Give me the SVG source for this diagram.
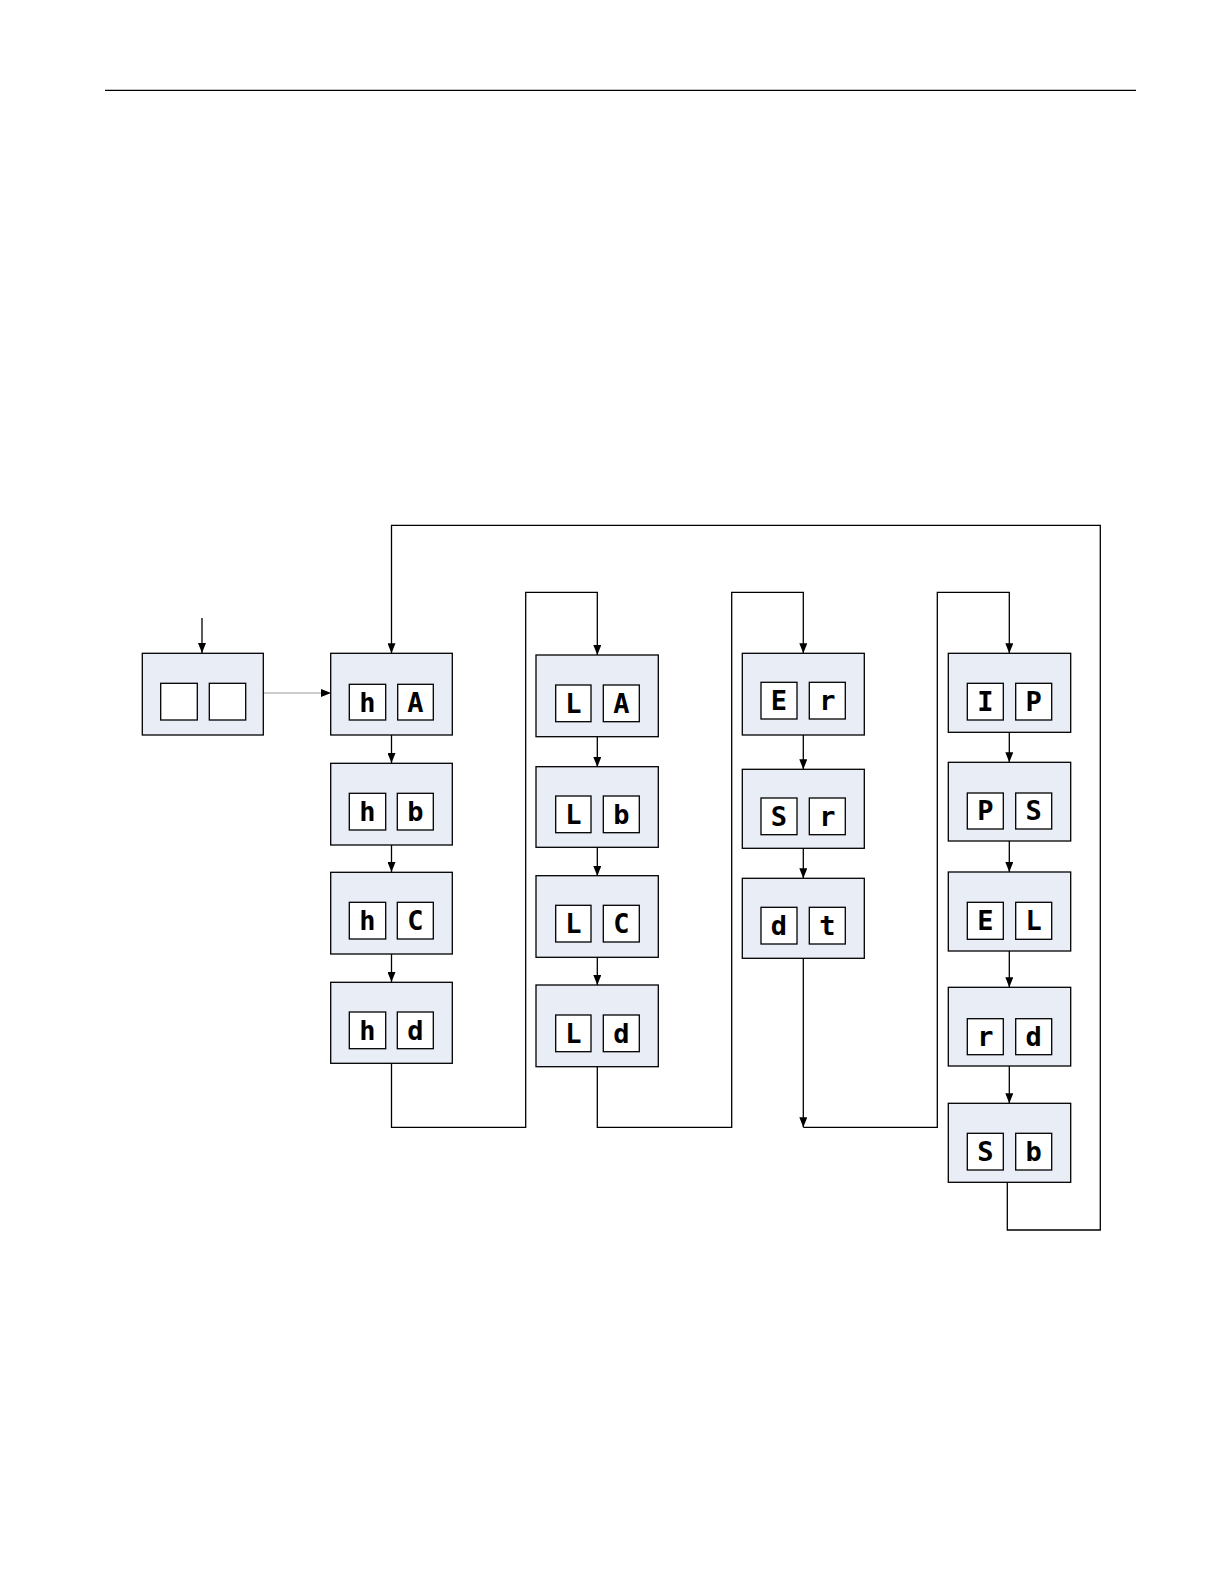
<svg xmlns="http://www.w3.org/2000/svg" width="1224" height="1584" viewBox="0 0 1224 1584">
<style>
.box{fill:#e8edf6;stroke:#000;stroke-width:1.3}
.sq{fill:#fff;stroke:#000;stroke-width:1.3}
.ch{font-family:"DejaVu Sans Mono","Liberation Mono",monospace;font-weight:bold;font-size:27px;fill:#000;text-anchor:middle}
.ln{fill:none;stroke:#000;stroke-width:1.3}
.ar{fill:none;stroke:#000;stroke-width:1.3;marker-end:url(#ah)}
</style>
<defs>
<marker id="ah" markerUnits="userSpaceOnUse" markerWidth="10" markerHeight="8" refX="10" refY="4" orient="auto">
<path d="M0,0 L10,4 L0,8 z" fill="#000"/>
</marker>
</defs>
<rect width="1224" height="1584" fill="#fff"/>
<line x1="105" y1="90.3" x2="1136" y2="90.3" stroke="#000" stroke-width="1.3"/>

<g id="connectors">
<line class="ar" x1="202" y1="618" x2="202" y2="653"/>
<line x1="263" y1="693" x2="331" y2="693" stroke="#999" stroke-width="1.2" marker-end="url(#ah)"/>
<line class="ar" x1="391.5" y1="735" x2="391.5" y2="763"/>
<line class="ar" x1="391.5" y1="845" x2="391.5" y2="872"/>
<line class="ar" x1="391.5" y1="954" x2="391.5" y2="982"/>
<polyline class="ar" points="391.5,1063 391.5,1127.3 525.7,1127.3 525.7,592.3 597.3,592.3 597.3,655"/>
<line class="ar" x1="597.3" y1="736.7" x2="597.3" y2="767"/>
<line class="ar" x1="597.3" y1="847.3" x2="597.3" y2="876"/>
<line class="ar" x1="597.3" y1="957.3" x2="597.3" y2="985"/>
<polyline class="ar" points="597.3,1066.7 597.3,1127.3 731.7,1127.3 731.7,592.3 803.3,592.3 803.3,653.3"/>
<line class="ar" x1="803.3" y1="735" x2="803.3" y2="769.3"/>
<line class="ar" x1="803.3" y1="848.3" x2="803.3" y2="878.3"/>
<line class="ar" x1="803.3" y1="958.3" x2="803.3" y2="1127.3"/>
<polyline class="ar" points="803.3,1127.3 937.3,1127.3 937.3,592.3 1009.3,592.3 1009.3,653.3"/>
<line class="ar" x1="1009.3" y1="732.3" x2="1009.3" y2="762.3"/>
<line class="ar" x1="1009.3" y1="841" x2="1009.3" y2="872"/>
<line class="ar" x1="1009.3" y1="951" x2="1009.3" y2="987.3"/>
<line class="ar" x1="1009.3" y1="1066" x2="1009.3" y2="1103.3"/>
<polyline class="ar" points="1007.3,1182.3 1007.3,1230 1100.3,1230 1100.3,525.3 391.5,525.3 391.5,653.3"/>
</g>

<g id="start">
<rect class="box" x="142.3" y="653.3" width="121" height="81.7"/>
<rect class="sq" x="160.7" y="683.3" width="36.6" height="36.7"/>
<rect class="sq" x="209.3" y="683.3" width="36.4" height="36.7"/>
</g>

<g id="hA">
<rect class="box" x="330.7" y="653.3" width="121.6" height="81.7"/>
<rect class="sq" x="349.3" y="684.3" width="36.4" height="35.7"/>
<rect class="sq" x="397.7" y="684.3" width="35.6" height="35.7"/>
<text class="ch" x="367.5" y="712">h</text><text class="ch" x="415.5" y="712">A</text>
</g>
<g id="hb">
<rect class="box" x="330.7" y="763.3" width="121.6" height="81.7"/>
<rect class="sq" x="349.3" y="793.3" width="36.4" height="36.7"/>
<rect class="sq" x="397.3" y="793.3" width="36" height="36.7"/>
<text class="ch" x="367.5" y="821">h</text><text class="ch" x="415.3" y="821">b</text>
</g>
<g id="hC">
<rect class="box" x="330.7" y="872.3" width="121.6" height="81.7"/>
<rect class="sq" x="349.3" y="902.3" width="36.4" height="36.7"/>
<rect class="sq" x="397.3" y="902.3" width="36" height="36.7"/>
<text class="ch" x="367.5" y="930">h</text><text class="ch" x="415.3" y="930">C</text>
</g>
<g id="hd">
<rect class="box" x="330.7" y="982.3" width="121.6" height="81"/>
<rect class="sq" x="349.3" y="1012" width="36.4" height="36.7"/>
<rect class="sq" x="397.3" y="1012" width="36" height="36.7"/>
<text class="ch" x="367.5" y="1040">h</text><text class="ch" x="415.3" y="1040">d</text>
</g>

<g id="LA">
<rect class="box" x="536" y="655" width="122.3" height="81.7"/>
<rect class="sq" x="555.7" y="685" width="35.3" height="36.7"/>
<rect class="sq" x="603.3" y="685" width="36" height="36.7"/>
<text class="ch" x="573.3" y="713">L</text><text class="ch" x="621.3" y="713">A</text>
</g>
<g id="Lb">
<rect class="box" x="536" y="766.7" width="122.3" height="80.6"/>
<rect class="sq" x="555.7" y="796" width="35.3" height="36.7"/>
<rect class="sq" x="603.3" y="796" width="36" height="36.7"/>
<text class="ch" x="573.3" y="824">L</text><text class="ch" x="621.3" y="824">b</text>
</g>
<g id="LC">
<rect class="box" x="536" y="875.7" width="122.3" height="81.6"/>
<rect class="sq" x="555.7" y="905.3" width="35.3" height="36.7"/>
<rect class="sq" x="603.3" y="905.3" width="36" height="36.7"/>
<text class="ch" x="573.3" y="933">L</text><text class="ch" x="621.3" y="933">C</text>
</g>
<g id="Ld">
<rect class="box" x="536" y="985" width="122.3" height="81.7"/>
<rect class="sq" x="555.7" y="1015" width="35.3" height="36.7"/>
<rect class="sq" x="603.3" y="1015" width="36" height="36.7"/>
<text class="ch" x="573.3" y="1043">L</text><text class="ch" x="621.3" y="1043">d</text>
</g>

<g id="Er">
<rect class="box" x="742.3" y="653.3" width="122" height="81.7"/>
<rect class="sq" x="761" y="682.3" width="36" height="36.7"/>
<rect class="sq" x="809.3" y="682.3" width="36" height="36.7"/>
<text class="ch" x="779" y="710">E</text><text class="ch" x="827.3" y="710">r</text>
</g>
<g id="Sr">
<rect class="box" x="742.3" y="769.3" width="122" height="79"/>
<rect class="sq" x="761" y="798" width="36" height="36.7"/>
<rect class="sq" x="809.3" y="798" width="36" height="36.7"/>
<text class="ch" x="779" y="826">S</text><text class="ch" x="827.3" y="826">r</text>
</g>
<g id="dt">
<rect class="box" x="742.3" y="878.3" width="122" height="80"/>
<rect class="sq" x="761" y="907.3" width="36" height="36.7"/>
<rect class="sq" x="809.3" y="907.3" width="36" height="36.7"/>
<text class="ch" x="779" y="935">d</text><text class="ch" x="827.3" y="935">t</text>
</g>

<g id="IP">
<rect class="box" x="948.3" y="653.3" width="122.4" height="79"/>
<rect class="sq" x="967.3" y="683.3" width="36" height="36.7"/>
<rect class="sq" x="1015.7" y="683.3" width="36" height="36.7"/>
<text class="ch" x="985.3" y="711">I</text><text class="ch" x="1033.7" y="711">P</text>
</g>
<g id="PS">
<rect class="box" x="948.3" y="762.3" width="122.4" height="78.7"/>
<rect class="sq" x="967.3" y="793" width="36" height="36"/>
<rect class="sq" x="1015.7" y="793" width="36" height="36"/>
<text class="ch" x="985.3" y="820">P</text><text class="ch" x="1033.7" y="820">S</text>
</g>
<g id="EL">
<rect class="box" x="948.3" y="872" width="122.4" height="79"/>
<rect class="sq" x="967.3" y="902.3" width="36" height="37"/>
<rect class="sq" x="1015.7" y="902.3" width="36" height="37"/>
<text class="ch" x="985.3" y="930">E</text><text class="ch" x="1033.7" y="930">L</text>
</g>
<g id="rd">
<rect class="box" x="948.3" y="987.3" width="122.4" height="78.7"/>
<rect class="sq" x="967.3" y="1018.7" width="36" height="36"/>
<rect class="sq" x="1015.7" y="1018.7" width="36" height="36"/>
<text class="ch" x="985.3" y="1046">r</text><text class="ch" x="1033.7" y="1046">d</text>
</g>
<g id="Sb">
<rect class="box" x="948.3" y="1103.3" width="122.4" height="79"/>
<rect class="sq" x="967.3" y="1133.3" width="36" height="36.7"/>
<rect class="sq" x="1015.7" y="1133.3" width="36" height="36.7"/>
<text class="ch" x="985.3" y="1161">S</text><text class="ch" x="1033.7" y="1161">b</text>
</g>
</svg>
